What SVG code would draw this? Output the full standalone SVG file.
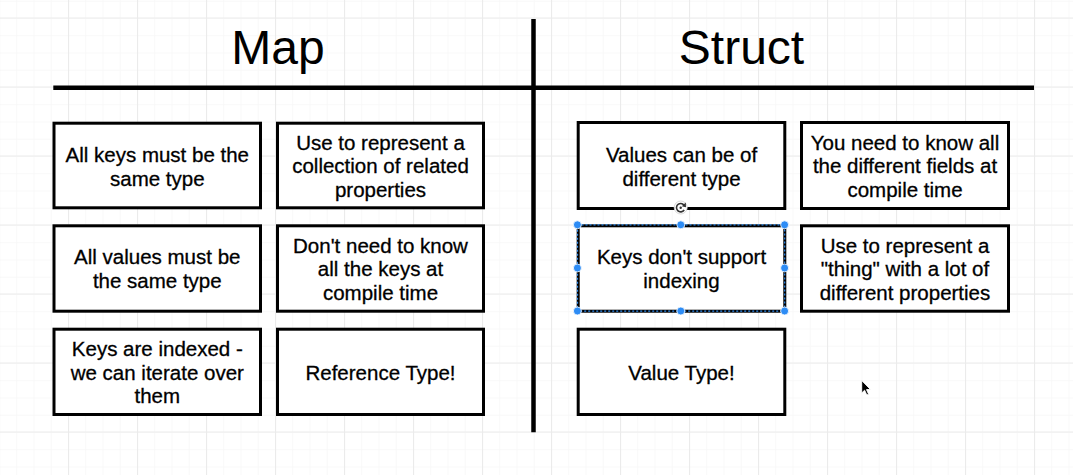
<svg xmlns="http://www.w3.org/2000/svg" width="1073" height="475" viewBox="0 0 1073 475">
  <defs>
    <pattern id="gMinor" x="-1" y="0.75" width="17.25" height="17.25" patternUnits="userSpaceOnUse">
      <path d="M0.5 0V17.25M0 0.5H17.25" stroke="#f8f8f8" stroke-width="1" fill="none"/>
    </pattern>
    <pattern id="gMajor" x="-1" y="17.5" width="69" height="69" patternUnits="userSpaceOnUse">
      <path d="M0.5 0V69M0 0.5H69" stroke="#ebebeb" stroke-width="1.2" fill="none"/>
    </pattern>
    <style>
      .box { fill: #ffffff; stroke: #000000; stroke-width: 3; }
      .t { font-family: "Liberation Sans", Arial, Helvetica, sans-serif; font-size: 20.5px; fill: #000000; stroke: #000000; stroke-width: 0.3; text-anchor: middle; }
      .title { font-family: "Liberation Sans", Arial, Helvetica, sans-serif; font-size: 48px; fill: #000000; text-anchor: middle; }
      .rule { stroke: #000000; stroke-width: 4.5; fill: none; }
      .sel { fill: none; stroke: #2f8cf0; stroke-width: 1.2; stroke-dasharray: 2 2; }
      .handle { fill: #2d8cf5; stroke: #ffffff; stroke-width: 0.8; }
    </style>
  </defs>

  <rect width="1073" height="475" fill="#ffffff"/>
  <rect width="1073" height="475" fill="url(#gMinor)"/>
  <rect width="1073" height="475" fill="url(#gMajor)"/>

  <g id="titles">
    <text class="title" x="278" y="63.5">Map</text>
    <text class="title" x="741.5" y="63.5">Struct</text>
  </g>

  <g id="connectors">
    <line class="rule" x1="53.3" y1="87.8" x2="1034" y2="87.8"/>
    <line class="rule" x1="533.5" y1="19" x2="533.5" y2="432.3"/>
  </g>

  <!-- Map column -->
  <g id="map-keys-same-type">
    <rect class="box" x="54" y="123.2" width="206.5" height="84.6"/>
    <text class="t" x="157.3" y="161.8">All keys must be the</text>
    <text class="t" x="157.3" y="185.5">same type</text>
  </g>
  <g id="map-collection">
    <rect class="box" x="277.5" y="123.2" width="206" height="84.6"/>
    <text class="t" x="380.5" y="149.7">Use to represent a</text>
    <text class="t" x="380.5" y="173.4">collection of related</text>
    <text class="t" x="380.5" y="197.1">properties</text>
  </g>
  <g id="map-values-same-type">
    <rect class="box" x="54" y="225.8" width="206.5" height="85.4"/>
    <text class="t" x="157.3" y="264.3">All values must be</text>
    <text class="t" x="157.3" y="288">the same type</text>
  </g>
  <g id="map-dont-need-keys">
    <rect class="box" x="277.5" y="225.8" width="206" height="85.4"/>
    <text class="t" x="380.5" y="252.6">Don't need to know</text>
    <text class="t" x="380.5" y="276.3">all the keys at</text>
    <text class="t" x="380.5" y="300">compile time</text>
  </g>
  <g id="map-keys-indexed">
    <rect class="box" x="54" y="329.2" width="206.5" height="85.3"/>
    <text class="t" x="157.3" y="356">Keys are indexed -</text>
    <text class="t" x="157.3" y="379.7">we can iterate over</text>
    <text class="t" x="157.3" y="403.4">them</text>
  </g>
  <g id="map-reference-type">
    <rect class="box" x="277.5" y="329.2" width="206" height="85.3"/>
    <text class="t" x="380.5" y="379.7">Reference Type!</text>
  </g>

  <!-- Struct column -->
  <g id="struct-values-different">
    <rect class="box" x="578.2" y="122.5" width="206.6" height="86"/>
    <text class="t" x="681.5" y="161.8">Values can be of</text>
    <text class="t" x="681.5" y="185.5">different type</text>
  </g>
  <g id="struct-know-fields">
    <rect class="box" x="801.5" y="122.5" width="207" height="86"/>
    <text class="t" x="905" y="149.7">You need to know all</text>
    <text class="t" x="905" y="173.4">the different fields at</text>
    <text class="t" x="905" y="197.1">compile time</text>
  </g>
  <g id="struct-keys-no-index">
    <rect class="box" x="578.2" y="225.8" width="206.6" height="85.4"/>
    <rect class="sel" x="577.5" y="224.8" width="207.2" height="86.3"/>
    <text class="t" x="681.5" y="264.3">Keys don't support</text>
    <text class="t" x="681.5" y="288">indexing</text>
    <circle class="handle" cx="577.4" cy="224.8" r="4"/>
    <circle class="handle" cx="680.8" cy="224.8" r="4"/>
    <circle class="handle" cx="784.6" cy="224.8" r="4"/>
    <circle class="handle" cx="577.4" cy="268" r="4"/>
    <circle class="handle" cx="784.6" cy="268" r="4"/>
    <circle class="handle" cx="577.4" cy="311" r="4"/>
    <circle class="handle" cx="680.8" cy="311" r="4"/>
    <circle class="handle" cx="784.6" cy="311" r="4"/>
    <g id="rotate-handle">
      <circle cx="680.7" cy="207.5" r="6.5" fill="#ffffff" stroke="#d0d0d0" stroke-width="0.8"/>
      <path d="M684.6 206.2 A4.2 4.2 0 1 0 684.2 210" fill="none" stroke="#333333" stroke-width="1.6"/>
      <polygon points="685.8,202.6 686,207.2 681.8,206.2" fill="#333333"/>
      <circle cx="680.7" cy="207.8" r="1.2" fill="#333333"/>
    </g>
  </g>
  <g id="struct-thing">
    <rect class="box" x="801.5" y="225.8" width="207" height="85.4"/>
    <text class="t" x="905" y="252.6">Use to represent a</text>
    <text class="t" x="905" y="276.3">"thing" with a lot of</text>
    <text class="t" x="905" y="300">different properties</text>
  </g>
  <g id="struct-value-type">
    <rect class="box" x="578.2" y="329.2" width="206.6" height="85.3"/>
    <text class="t" x="681.5" y="379.7">Value Type!</text>
  </g>

  <g id="cursor">
    <polygon points="861.7,380.5 861.7,393 864.6,390.2 866.8,395 868.6,394.2 866.5,389.6 870.4,389.4" fill="#000000" stroke="#ffffff" stroke-width="0.9" stroke-linejoin="round"/>
  </g>
</svg>
